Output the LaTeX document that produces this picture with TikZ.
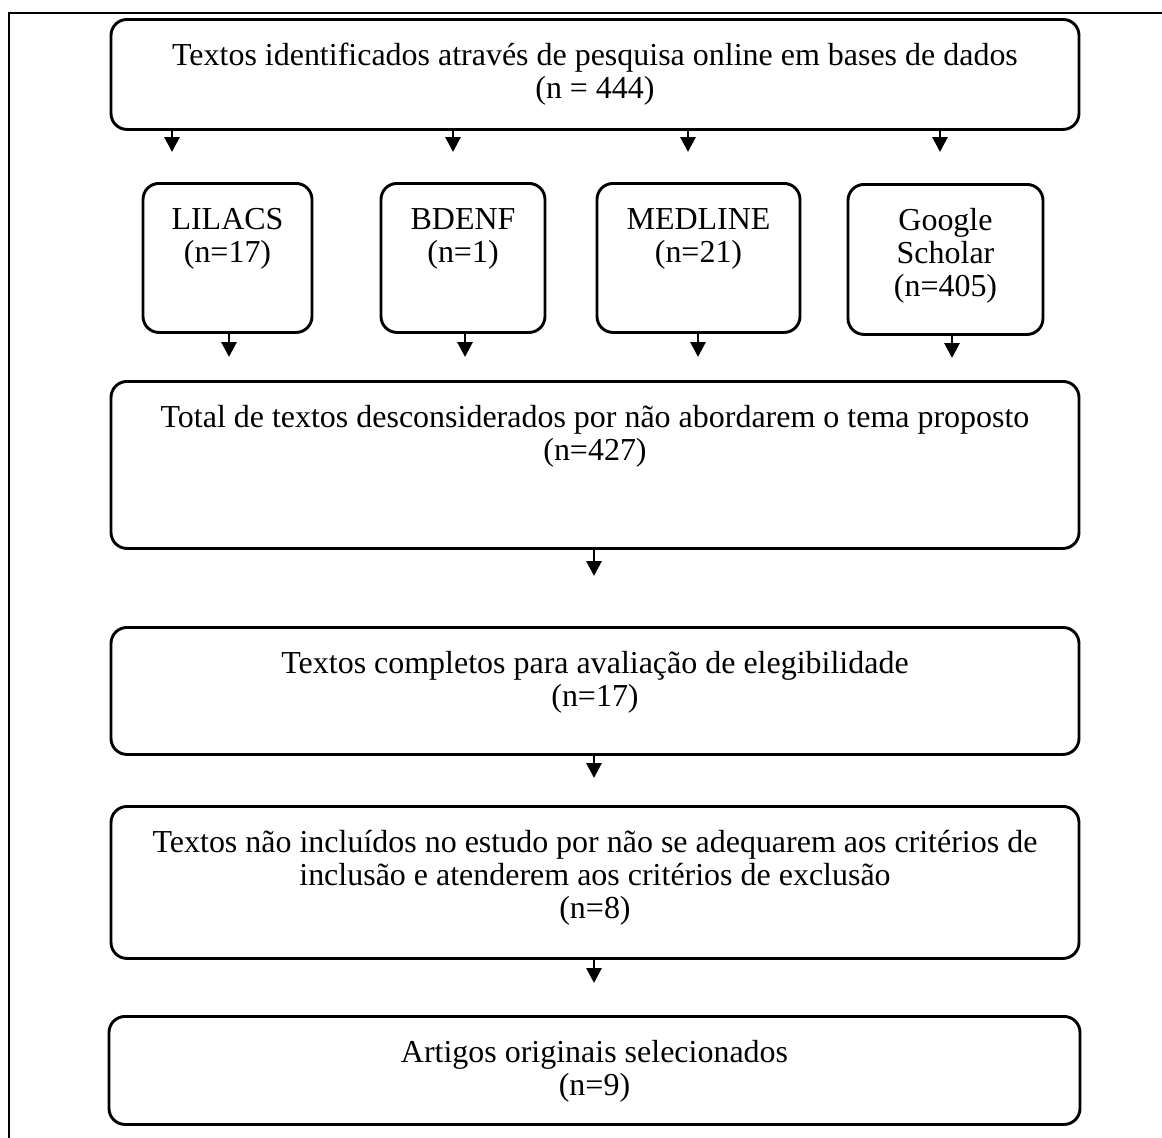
\documentclass[tikz,border=0pt]{standalone}
\usepackage{fontspec}
\setmainfont{Liberation Serif}
\usepackage{tikz}
\usetikzlibrary{arrows.meta}

\newcommand{\pxu}{0.38pt}

\begin{document}
\begin{tikzpicture}[x=0.38pt, y=-0.38pt,
    font=\fontsize{12.15}{12.5}\selectfont,
    flowbox/.style={draw, line width=1.1pt, rounded corners=16*\pxu, align=center,
        anchor=north, inner sep=0pt},
    twolines/.style={text height=79*\pxu},
    threelines/.style={text height=112*\pxu},
    flowarrow/.style={line width=1.1pt, -{Triangle[length=15*\pxu, width=15*\pxu]}}]
    \useasboundingbox (0, 0) rectangle (1162, 1138);
    \draw[line width=1.1pt] (9, 1138) -- (9, 13) -- (1162, 13);

    \node[flowbox, twolines, minimum width=968*\pxu, text depth=31*\pxu] (search) at (595, 18)
        {Textos identificados através de pesquisa online em bases de dados\\(n = 444)};
    \node[flowbox, twolines, minimum width=169*\pxu, text depth=70*\pxu] (lilacs) at (227.5, 182)
        {LILACS\\(n=17)};
    \node[flowbox, twolines, minimum width=164*\pxu, text depth=70*\pxu] (bdenf) at (463, 182)
        {BDENF\\(n=1)};
    \node[flowbox, twolines, minimum width=203*\pxu, text depth=70*\pxu] (medline) at (698.5, 182)
        {MEDLINE\\(n=21)};
    \node[flowbox, threelines, minimum width=195*\pxu, text depth=38*\pxu] (scholar) at (945.5, 183)
        {Google\\Scholar\\(n=405)};
    \node[flowbox, twolines, minimum width=968*\pxu, text depth=88*\pxu] (total) at (595, 380)
        {Total de textos desconsiderados por não abordarem o tema proposto\\(n=427)};
    \node[flowbox, twolines, minimum width=968*\pxu, text depth=48*\pxu] (full) at (595, 626)
        {Textos completos para avaliação de elegibilidade\\(n=17)};
    \node[flowbox, threelines, minimum width=968*\pxu, text depth=40*\pxu] (excluded) at (595, 805)
        {Textos não incluídos no estudo por não se adequarem aos critérios de\\inclusão e atenderem aos critérios de exclusão\\(n=8)};
    \node[flowbox, twolines, minimum width=971*\pxu, text depth=29*\pxu] (selected) at (594.5, 1015)
        {Artigos originais selecionados\\(n=9)};

    % arrows below the search box
    \foreach \xa [count=\i] in {172, 453, 688, 940} {
        \coordinate (search tip \i) at (\xa, 152);
        \draw[flowarrow] (search.south -| search tip \i) -- (search tip \i);
    }
    % arrows below the databases
    \coordinate (lilacs tip) at (229, 357);
    \coordinate (bdenf tip) at (465, 357);
    \coordinate (medline tip) at (698, 357);
    \coordinate (scholar tip) at (952, 358);
    \draw[flowarrow] (lilacs.south -| lilacs tip) -- (lilacs tip);
    \draw[flowarrow] (bdenf.south -| bdenf tip) -- (bdenf tip);
    \draw[flowarrow] (medline.south -| medline tip) -- (medline tip);
    \draw[flowarrow] (scholar.south -| scholar tip) -- (scholar tip);

    \coordinate (total tip) at (594, 576);
    \coordinate (full tip) at (594, 778);
    \coordinate (excluded tip) at (594, 983);
    \draw[flowarrow] (total.south -| total tip) -- (total tip);
    \draw[flowarrow] (full.south -| full tip) -- (full tip);
    \draw[flowarrow] (excluded.south -| excluded tip) -- (excluded tip);
\end{tikzpicture}
\end{document}
